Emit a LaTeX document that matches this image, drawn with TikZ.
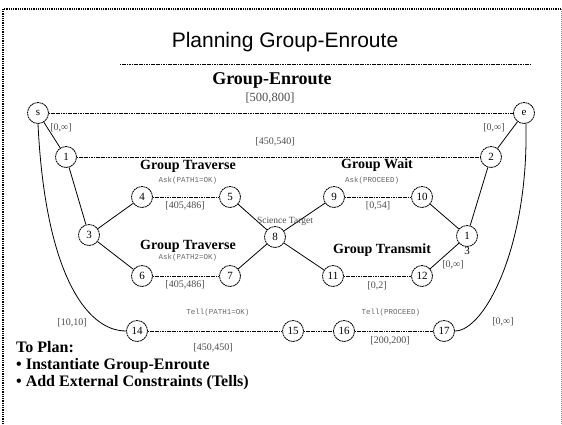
\documentclass[tikz,border=0pt]{standalone}
\usepackage{fontspec}
\setmainfont{Liberation Serif}
\newfontfamily\titlefont{Liberation Sans}
\newfontfamily\codefont{Liberation Mono}

\begin{document}
\begin{tikzpicture}[x=1pt,y=-1pt,
    evt/.style={circle,draw,line width=0.8pt,dash pattern=on 2pt off 0.6pt,
      minimum size=21pt,inner sep=0pt,font=\fontsize{11}{11}\selectfont},
    hline/.style={line width=0.8pt,dash pattern=on 1.2pt off 0.5pt},
    dline/.style={line width=0.8pt},
    grp/.style={font=\bfseries\fontsize{14}{14}\selectfont},
    ask/.style={font=\codefont\fontsize{7.5}{7.5}\selectfont,text=black!60},
    bnd/.style={font=\fontsize{10}{10}\selectfont,text=black!70},
    todo/.style={anchor=west,inner sep=0pt,font=\bfseries\fontsize{16}{16}\selectfont}]
  \useasboundingbox (0,0) rectangle (562,424);
  % frame
  \draw[line width=1.6pt,dash pattern=on 1pt off 0.8pt] (3,424) -- (3,9) -- (561,9);
  \draw[black!45,dash pattern=on 1pt off 1pt] (561,9) -- (561,424);
  % heading
  \node[font=\titlefont\fontsize{21}{21}\selectfont] (title) at (285,42) {Planning Group-Enroute};
  \draw[hline] (120,64) -- (530,64);
  \node[font=\bfseries\fontsize{18}{18}\selectfont] (enroute) at (272,80) {Group-Enroute};
  \node[font=\fontsize{12.5}{12.5}\selectfont,text=black!70] (bse) at (270,98) {[500,800]};
  % events
  \node[evt] (s) at (38,113) {s};
  \node[evt] (e) at (524,113) {e};
  \node[evt] (n1) at (66,157) {1};
  \node[evt] (n2) at (491,157) {2};
  \node[evt] (n3) at (89,235) {3};
  \node[evt] (n4) at (142,197) {4};
  \node[evt] (n5) at (230,197) {5};
  \node[evt] (n6) at (142,276) {6};
  \node[evt] (n7) at (230,276) {7};
  \node[evt] (n8) at (275,237) {8};
  \node[evt] (n9) at (334,197) {9};
  \node[evt] (n10) at (422,197) {10};
  \node[evt] (n11) at (333,276) {11};
  \node[evt] (n12) at (422,276) {12};
  \node[evt] (n13) at (467,236) {1};
  \node[font=\fontsize{11}{11}\selectfont] (n13b) at (467,251) {3};
  \node[evt] (n14) at (137,331) {14};
  \node[evt] (n15) at (293,331) {15};
  \node[evt] (n16) at (344,331) {16};
  \node[evt] (n17) at (444,331) {17};
  % links
  \draw[hline] (s) -- (e);
  \draw[hline] (n1) -- (n2);
  \draw[dline] (s) -- (n1);
  \draw[dline] (e) -- (n2);
  \draw[dline] (n1) -- (n3);
  \draw[dline] (n3) -- (n4);
  \draw[dline] (n3) -- (n6);
  \draw[hline] (n4) -- (n5);
  \draw[hline] (n6) -- (n7);
  \draw[dline] (n5) -- (n8);
  \draw[dline] (n7) -- (n8);
  \draw[dline] (n8) -- (n9);
  \draw[dline] (n8) -- (n11);
  \draw[hline] (n9) -- (n10);
  \draw[hline] (n11) -- (n12);
  \draw[dline] (n10) -- (n13);
  \draw[dline] (n12) -- (n13);
  \draw[dline] (n13) -- (n2);
  \draw[hline] (n14) -- (n15);
  \draw[hline] (n15) -- (n16);
  \draw[hline] (n16) -- (n17);
  \draw[dline] (s.south) .. controls (45,270) and (85,331) .. (n14.west);
  \draw[dline] (e.-80) .. controls (529,245) and (485,331) .. (n17.east);
  % labels
  \node[bnd] (b1) at (61,128) {[0,∞]};
  \node[bnd] (b2) at (494,128) {[0,∞]};
  \node[bnd] (b3) at (275,142) {[450,540]};
  \node[grp] (g1) at (188,166) {Group Traverse};
  \node[ask] (a1) at (188,181) {Ask(PATH1=OK)};
  \node[bnd] (b4) at (185,206) {[405,486]};
  \node[font=\fontsize{9.5}{9.5}\selectfont,text=black!70] (sci) at (285,221) {Science Target};
  \node[grp] (g2) at (188,246) {Group Traverse};
  \node[ask] (a2) at (188,258) {Ask(PATH2=OK)};
  \node[bnd] (b5) at (185,285) {[405,486]};
  \node[grp] (g3) at (377,165) {Group Wait};
  \node[ask] (a3) at (372,181) {Ask(PROCEED)};
  \node[bnd] (b6) at (378,206) {[0,54]};
  \node[grp] (g4) at (382,250) {Group Transmit};
  \node[bnd] (b7) at (453,265) {[0,∞]};
  \node[bnd] (b8) at (377,286) {[0,2]};
  \node[ask] (t1) at (218,313) {Tell(PATH1=OK)};
  \node[bnd] (b9) at (213,348) {[450,450]};
  \node[bnd] (b10) at (72,323) {[10,10]};
  \node[ask] (t2) at (391,313) {Tell(PROCEED)};
  \node[bnd] (b11) at (390,341) {[200,200]};
  \node[bnd] (b12) at (503,322) {[0,∞]};
  % to plan
  \node[todo] (plan) at (16,347) {To Plan:};
  \node[todo] (plan1) at (16,366) {• Instantiate Group-Enroute};
  \node[todo] (plan2) at (16,383) {• Add External Constraints (Tells)};
\end{tikzpicture}
\end{document}
